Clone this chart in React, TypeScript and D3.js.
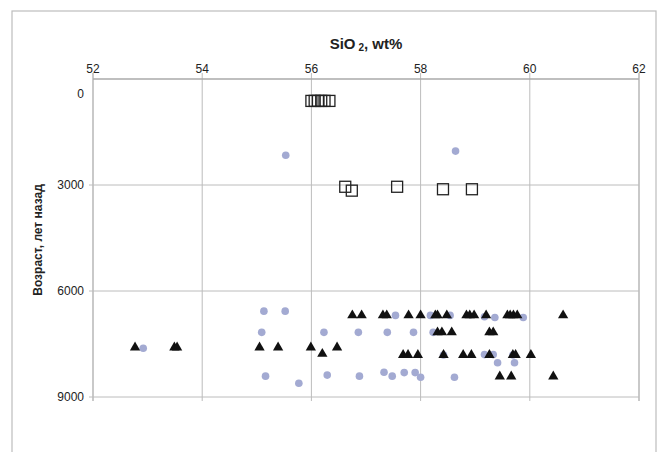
import React from 'react';
import * as d3 from 'd3';

// SiO2 (wt%) vs age (years ago)
const squarePoints: [number, number][] = [
  [56.0, 620], [56.06, 620], [56.12, 620], [56.18, 620], [56.24, 620], [56.33, 620],
  [56.62, 3050], [56.74, 3160], [57.57, 3050], [58.41, 3120], [58.94, 3120],
];

const circlePoints: [number, number][] = [
  [55.53, 2160], [58.64, 2040],
  [55.13, 6570], [55.52, 6570],
  [55.09, 7170], [56.23, 7170], [56.86, 7170], [57.39, 7170], [57.87, 7170], [58.23, 7170],
  [52.92, 7620],
  [57.54, 6690], [58.18, 6690], [58.54, 6690], [59.17, 6730], [59.36, 6750], [59.88, 6750],
  [59.17, 7800], [59.33, 7800], [58.42, 7810], [59.69, 7810],
  [59.41, 8030], [59.72, 8030],
  [55.16, 8410], [55.77, 8610], [56.29, 8380], [56.88, 8410], [57.33, 8300], [57.48, 8410],
  [57.7, 8310], [57.9, 8310], [58.0, 8440], [58.62, 8440],
];

const trianglePoints: [number, number][] = [
  [52.77, 7600], [53.49, 7600], [53.54, 7600], [55.05, 7600], [55.39, 7600], [55.99, 7600],
  [56.2, 7780], [56.47, 7600],
  [56.75, 6690], [56.92, 6690], [57.31, 6690], [57.38, 6690], [57.78, 6690], [58.0, 6690],
  [58.27, 6690], [58.31, 6690], [58.48, 6690], [58.84, 6690], [58.9, 6690], [58.98, 6690],
  [59.2, 6690], [59.59, 6690], [59.64, 6690], [59.7, 6690], [59.77, 6690], [60.61, 6690],
  [58.31, 7170], [58.39, 7170], [58.57, 7170], [59.26, 7170], [59.33, 7170],
  [57.68, 7810], [57.77, 7810], [57.95, 7810], [58.42, 7810], [58.78, 7810], [58.93, 7810],
  [59.26, 7810], [59.69, 7810], [59.74, 7810], [60.02, 7810],
  [59.45, 8420], [59.66, 8420], [60.43, 8420],
];

const xTicks = [52, 54, 56, 58, 60, 62];
const yTicks = [0, 3000, 6000, 9000];

const W = 659;
const H = 452;
const font = "Arial, 'Liberation Sans', sans-serif";

const App = () => {
  const left = 93, right = 639, top = 79, bottom = 397;

  const x = d3.scaleLinear().domain([52, 62]).range([left, right]);
  const y = d3.scaleLinear().domain([0, 9000]).range([top, bottom]);

  const triangle = d3.symbol().type(d3.symbolTriangle).size(46)();

  return (
    <svg width={W} height={H} style={{ position: 'absolute', left: 0, top: 0, background: '#fff' }}>
      {/* outer frame */}
      <rect x={12} y={11} width={644} height={H} fill="none" stroke="#bdbdbd" strokeWidth={1.2} />

      {/* vertical gridlines + top ticks */}
      {xTicks.map(t => (
        <line key={'vx' + t} x1={x(t)} x2={x(t)} y1={top - 6} y2={bottom + 4}
          stroke="#bcbcbc" strokeWidth={t === 62 || t === 52 ? 1.6 : 1} />
      ))}
      {/* horizontal gridlines */}
      {yTicks.slice(1).map(t => (
        <line key={'hy' + t} x1={left - 4} x2={right} y1={y(t)} y2={y(t)} stroke="#bcbcbc" />
      ))}
      {/* top axis */}
      <line x1={left} x2={right} y1={top} y2={top} stroke="#aaaaaa" strokeWidth={1.4} />

      {xTicks.map(t => (
        <text key={'xl' + t} x={x(t)} y={top - 6} textAnchor="middle" fontFamily={font} fontSize={12} fill="#222">{t}</text>
      ))}
      {yTicks.map((t, i) => (
        <text key={'yl' + t} x={84} y={y(t) + (i === 0 ? 15 : 0)} dy="0.35em" textAnchor="end"
          fontFamily={font} fontSize={12} fill="#222">{t}</text>
      ))}

      <text x={(left + right) / 2} y={49} textAnchor="middle" fontFamily={font} fontSize={15} fontWeight="bold" fill="#222">
        SiO<tspan fontSize={10} dx={3} dy={2}>2</tspan><tspan dy={-2}>, wt%</tspan>
      </text>
      <text transform={`translate(42,${(top + bottom) / 2 + 2}) rotate(-90)`} textAnchor="middle"
        fontFamily={font} fontSize={12} fontWeight="bold" fill="#222">Возраст, лет назад</text>

      {circlePoints.map((d, i) => (
        <circle key={'c' + i} cx={x(d[0])} cy={y(d[1])} r={3.8} fill="#a3aad2" />
      ))}
      {trianglePoints.map((d, i) => (
        <path key={'t' + i} d={triangle} transform={`translate(${x(d[0])},${y(d[1])})`} fill="#111" />
      ))}
      {squarePoints.map((d, i) => (
        <rect key={'s' + i} x={x(d[0]) - 5.5} y={y(d[1]) - 5.5} width={11} height={11}
          fill="none" stroke="#222" strokeWidth={1.3} />
      ))}
    </svg>
  );
};

export default App;
